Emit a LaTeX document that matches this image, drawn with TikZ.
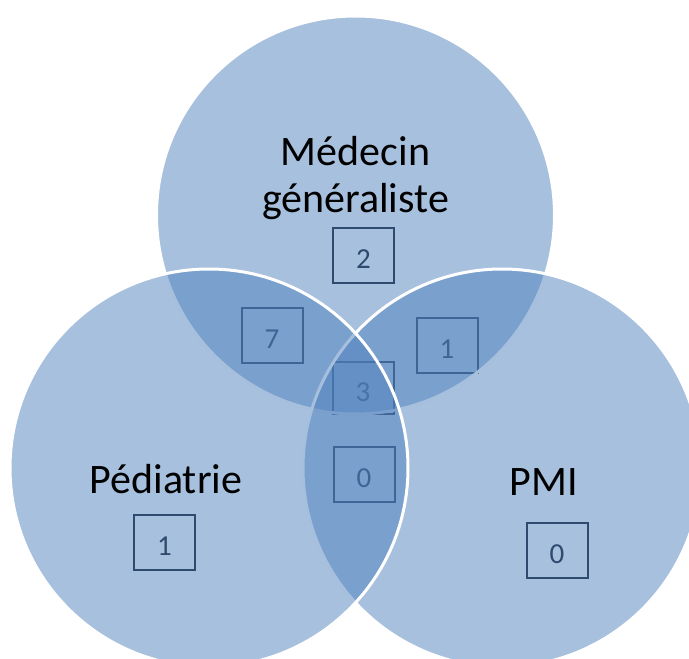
\documentclass[tikz,border=0pt]{standalone}
\usepackage{fontspec}
\setmainfont{Carlito}
\definecolor{accent}{HTML}{4F81BD}
\definecolor{boxc}{HTML}{0D131F}
\begin{document}
\begin{tikzpicture}[x=1pt,y=-1pt,
  venn/.style={circle, minimum size=398pt, inner sep=0pt, fill=accent, fill opacity=0.5, draw=white, draw opacity=1, line width=3pt},
  numbox/.style={draw=boxc, line width=2pt, text=boxc, minimum width=61pt, minimum height=55pt, inner sep=0pt, font=\fontsize{29}{30}\selectfont, text height=26pt, text depth=0pt},
  lab/.style={text=black, font=\fontsize{42}{47}\selectfont, align=center}]
\useasboundingbox (0,0) rectangle (689,659);
\clip (0,0) rectangle (689,659);
% number boxes (beneath the translucent circles)
\node[numbox] (b2) at (363.5,255.5) {2};
\node[numbox] (b7) at (272,335.5) {7};
\node[numbox] (b1r) at (447,345) {1};
\node[numbox, minimum height=52pt] (b3) at (363,388) {3};
\node[numbox] (b0l) at (364,474.5) {0};
\node[numbox] (b1p) at (164.5,542) {1};
\node[numbox] (b0p) at (557,550) {0};
% circles
\node[venn] (ctop) at (355.5,215) {};
\node[venn] (cright) at (502,468) {};
\node[venn] (cleft) at (209,468) {};
% labels
\node[lab, anchor=base] (lmg) at (355.5,212) {Médecin\\généraliste};
\node[lab, anchor=base] (lped) at (166,493) {Pédiatrie};
\node[lab, anchor=base] (lpmi) at (543.5,495) {PMI};
\end{tikzpicture}
\end{document}
